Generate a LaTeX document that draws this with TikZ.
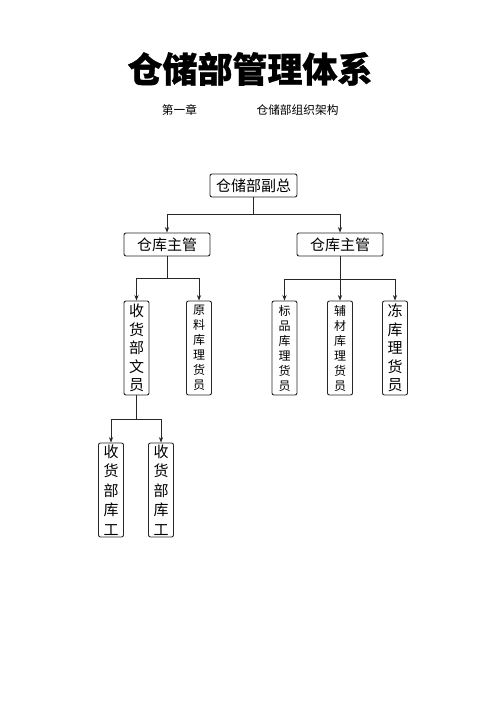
\documentclass[tikz,border=0pt]{standalone}
\usepackage{fontspec}
\newfontfamily\cjk{Noto Sans CJK SC}
\newfontfamily\cjkt{Noto Sans CJK SC}[BoldFeatures={FakeBold=0.8}]
\usetikzlibrary{arrows.meta}
\begin{document}
\begin{tikzpicture}[x=1pt,y=-1pt,
  box/.style={draw=black!85,line width=0.9pt,rounded corners=2pt,inner sep=0pt,align=center},
  hbox/.style={box,minimum width=86pt,minimum height=23pt,font=\fontsize{15}{18}\selectfont\cjk},
  vbig/.style={box,minimum width=25pt,minimum height=94pt,font=\fontsize{15}{18.5}\selectfont\cjk},
  vsmall/.style={box,minimum width=25pt,minimum height=94pt,font=\fontsize{12}{15}\selectfont\cjk},
  conn/.style={draw=black!85,line width=0.9pt,-{Stealth[length=5.5pt,width=4.2pt]}}]
\useasboundingbox (0,0) rectangle (500,707);
\fill[white] (0,0) rectangle (500,707);
\node[font=\fontsize{35}{40}\selectfont\cjkt\bfseries] (title) at (250,69) {仓储部管理体系};
\node[font=\fontsize{11.7}{14}\selectfont\cjk] (ch) at (179.5,110) {第一章};
\node[font=\fontsize{11.7}{14}\selectfont\cjk] (sub) at (297.5,110) {仓储部组织架构};

\node[hbox,minimum width=87pt] (vp) at (253.5,185.5) {仓储部副总};
\node[hbox] (lm) at (167,244.5) {仓库主管};
\node[hbox] (rm) at (340,244.5) {仓库主管};

\node[vbig] (a) at (136.5,348) {收\\货\\部\\文\\员};
\node[vsmall] (b) at (199,348) {原\\料\\库\\理\\货\\员};
\node[vsmall] (c) at (284.5,348) {标\\品\\库\\理\\货\\员};
\node[vsmall] (d) at (340,348) {辅\\材\\库\\理\\货\\员};
\node[vbig] (e) at (395,348) {冻\\库\\理\\货\\员};

\node[vbig,font=\fontsize{15}{19.5}\selectfont\cjk] (f) at (111,490) {收\\货\\部\\库\\工};
\node[vbig,font=\fontsize{15}{19.5}\selectfont\cjk] (g) at (161,490) {收\\货\\部\\库\\工};

\draw[conn] (vp.south) -- ++(0,17) -| (lm.north);
\draw[conn] (vp.south) -- ++(0,17) -| (rm.north);
\draw[conn] (lm.south) -- ++(0,22) -| (a.north);
\draw[conn] (lm.south) -- ++(0,22) -| (b.north);
\draw[conn] (rm.south) -- ++(0,22.5) -| (c.north);
\draw[conn] (rm.south) -- (d.north);
\draw[conn] (rm.south) -- ++(0,22.5) -| (e.north);
\draw[conn] (a.south) -- ++(0,23.5) -| (f.north);
\draw[conn] (a.south) -- ++(0,23.5) -| (g.north);
\end{tikzpicture}
\end{document}
